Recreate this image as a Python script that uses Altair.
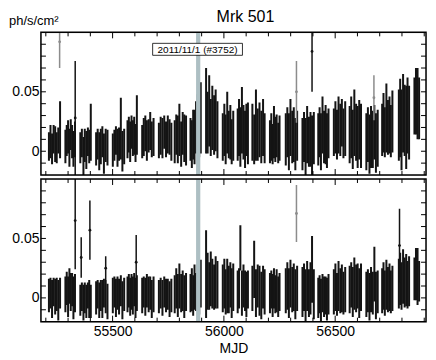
import altair as alt
import pandas as pd

# ---------------- data ----------------
mjd_days = [
    [55214, 55221, 55228, 55235, 55242, 55249, 55256, 55264],
    [55288, 55294, 55300, 55306, 55312, 55318, 55324, 55331],
    [55355, 55362, 55369, 55375, 55382, 55389, 55395, 55402],
    [55426, 55433, 55440, 55447, 55454, 55461, 55469, 55477],
    [55501, 55508, 55515, 55522, 55529, 55537, 55544, 55552],
    [55567, 55573, 55579, 55585, 55591, 55597, 55603, 55609],
    [55633, 55640, 55647, 55654, 55662, 55669, 55676, 55684],
    [55708, 55716, 55724, 55732, 55740, 55748, 55756, 55764],
    [55779, 55786, 55793, 55800, 55808, 55815, 55822, 55830],
    [55850, 55856, 55862, 55868, 55875, 55882, 55889, 55896],
    [55920, 55927, 55934, 55941, 55948, 55956, 55963, 55971],
    [55995, 56002, 56008, 56015, 56022, 56029, 56035, 56042],
    [56062, 56068, 56074, 56081, 56088, 56095, 56101, 56108],
    [56128, 56136, 56144, 56152, 56160, 56168, 56176, 56183],
    [56207, 56213, 56219, 56225, 56231, 56237, 56244, 56250],
    [56278, 56285, 56292, 56299, 56307, 56314, 56321, 56329],
    [56353, 56360, 56367, 56374, 56382, 56389, 56396, 56404],
    [56424, 56430, 56436, 56443, 56450, 56457, 56463, 56470],
    [56494, 56501, 56508, 56515, 56523, 56530, 56537, 56545],
    [56565, 56572, 56579, 56586, 56594, 56601, 56608, 56616],
    [56640, 56647, 56654, 56661, 56669, 56676, 56683, 56691],
    [56711, 56717, 56723, 56730, 56737, 56744, 56750, 56757],
    [56786, 56792, 56798, 56805, 56812, 56819, 56825, 56832],
    [56856, 56863, 56870, 56877],
]

top_flux = [
    [0.004, 0.008, 0.002, 0.010, 0.006, 0.003, 0.009, 0.018],
    [0.004, 0.009, 0.012, 0.003, 0.014, 0.008, 0.002, 0.010],
    [0.003, 0.007, -0.004, 0.005, 0.001, 0.008, 0.004, 0.016],
    [0.002, 0.006, 0.000, 0.004, 0.008, -0.002, 0.005, 0.003],
    [0.001, 0.005, 0.009, 0.003, 0.006, 0.019, 0.000, 0.004],
    [0.010, 0.014, 0.008, 0.016, 0.011, 0.013, 0.007, 0.022],
    [0.008, 0.012, 0.015, 0.009, 0.013, 0.017, 0.010, 0.012],
    [0.009, 0.013, 0.011, 0.016, 0.010, 0.014, 0.012, 0.008],
    [0.008, 0.014, 0.010, 0.018, 0.006, 0.015, 0.011, 0.009],
    [0.010, 0.006, 0.014, 0.012, 0.020, 0.024, 0.018, 0.028],
    [0.034, 0.024, 0.034, 0.020, 0.028, 0.022, 0.026, 0.018],
    [0.012, 0.018, 0.010, 0.024, 0.014, 0.016, 0.008, 0.013],
    [0.014, 0.020, 0.012, 0.026, 0.016, 0.010, 0.018, 0.015],
    [0.016, 0.010, 0.022, 0.014, 0.018, 0.012, 0.020, 0.011],
    [0.008, 0.012, 0.006, 0.016, 0.010, 0.013, 0.007, 0.011],
    [0.010, 0.016, 0.008, 0.020, 0.012, 0.014, 0.006, 0.013],
    [0.006, 0.012, 0.004, 0.014, 0.008, 0.010, 0.005, 0.011],
    [0.010, 0.016, 0.008, 0.022, 0.012, 0.014, 0.009, 0.015],
    [0.016, 0.020, 0.014, 0.022, 0.018, 0.024, 0.015, 0.019],
    [0.014, 0.020, 0.010, 0.024, 0.016, 0.012, 0.018, 0.013],
    [0.008, 0.014, 0.006, 0.012, 0.010, 0.016, 0.007, 0.011],
    [0.018, 0.024, 0.016, 0.028, 0.020, 0.022, 0.017, 0.025],
    [0.022, 0.028, 0.018, 0.032, 0.026, 0.020, 0.030, 0.024],
    [0.038, 0.042, 0.040, 0.036],
]
top_err = [
    [0.012, 0.014, 0.013, 0.012, 0.015, 0.013, 0.011, 0.024],
    [0.014, 0.013, 0.014, 0.016, 0.013, 0.014, 0.015, 0.015],
    [0.013, 0.012, 0.016, 0.014, 0.016, 0.012, 0.014, 0.024],
    [0.014, 0.013, 0.016, 0.015, 0.013, 0.017, 0.014, 0.015],
    [0.014, 0.013, 0.012, 0.016, 0.014, 0.026, 0.017, 0.015],
    [0.016, 0.015, 0.017, 0.014, 0.015, 0.016, 0.016, 0.025],
    [0.014, 0.016, 0.015, 0.017, 0.014, 0.016, 0.015, 0.016],
    [0.015, 0.016, 0.017, 0.014, 0.015, 0.016, 0.015, 0.016],
    [0.018, 0.017, 0.020, 0.022, 0.019, 0.018, 0.020, 0.021],
    [0.018, 0.020, 0.021, 0.023, 0.022, 0.024, 0.023, 0.030],
    [0.036, 0.026, 0.030, 0.024, 0.027, 0.025, 0.026, 0.024],
    [0.020, 0.022, 0.021, 0.026, 0.020, 0.023, 0.019, 0.021],
    [0.022, 0.024, 0.025, 0.028, 0.023, 0.024, 0.022, 0.026],
    [0.024, 0.021, 0.030, 0.022, 0.023, 0.022, 0.024, 0.021],
    [0.018, 0.020, 0.017, 0.022, 0.019, 0.018, 0.017, 0.019],
    [0.022, 0.021, 0.024, 0.024, 0.022, 0.023, 0.022, 0.021],
    [0.022, 0.021, 0.024, 0.024, 0.021, 0.023, 0.025, 0.022],
    [0.022, 0.021, 0.024, 0.024, 0.022, 0.025, 0.023, 0.021],
    [0.020, 0.022, 0.021, 0.024, 0.022, 0.020, 0.021, 0.023],
    [0.024, 0.026, 0.025, 0.028, 0.024, 0.026, 0.025, 0.027],
    [0.024, 0.023, 0.025, 0.026, 0.024, 0.023, 0.025, 0.024],
    [0.022, 0.025, 0.021, 0.029, 0.023, 0.024, 0.022, 0.026],
    [0.030, 0.033, 0.034, 0.033, 0.030, 0.035, 0.032, 0.031],
    [0.024, 0.028, 0.030, 0.026],
]

bot_flux = [
    [0.002, 0.004, -0.001, 0.005, 0.001, 0.003, -0.002, 0.004],
    [0.003, 0.008, 0.001, 0.010, 0.005, 0.007, 0.000, 0.004],
    [-0.002, 0.001, -0.004, 0.000, -0.003, 0.002, -0.001, -0.003],
    [0.000, 0.003, -0.002, 0.002, -0.001, 0.004, 0.001, -0.003],
    [0.002, 0.005, 0.000, 0.004, 0.001, 0.006, -0.002, 0.003],
    [0.003, 0.006, 0.001, 0.005, 0.002, 0.007, 0.000, 0.004],
    [0.002, 0.005, 0.001, 0.006, 0.003, 0.004, -0.001, 0.003],
    [0.001, 0.004, 0.000, 0.005, 0.002, 0.003, -0.001, 0.002],
    [0.003, 0.008, 0.002, 0.010, 0.004, 0.006, 0.001, 0.005],
    [0.004, 0.007, 0.002, 0.009, 0.005, 0.010, 0.003, 0.012],
    [0.020, 0.014, 0.010, 0.016, 0.012, 0.009, 0.013, 0.011],
    [0.008, 0.012, 0.005, 0.010, 0.007, 0.011, 0.004, 0.009],
    [0.005, 0.008, 0.042, 0.004, 0.010, 0.006, 0.003, 0.007],
    [0.008, 0.024, 0.004, 0.010, 0.006, 0.002, 0.009, 0.005],
    [0.004, 0.007, 0.002, 0.008, 0.003, 0.006, 0.001, 0.005],
    [0.006, 0.010, 0.004, 0.012, 0.007, 0.009, 0.003, 0.008],
    [0.005, 0.009, 0.002, 0.010, 0.004, 0.008, 0.024, 0.003],
    [0.000, 0.003, -0.002, 0.004, 0.001, 0.002, -0.001, 0.003],
    [0.005, 0.009, 0.003, 0.010, 0.006, 0.008, 0.004, 0.007],
    [0.007, 0.011, 0.005, 0.012, 0.008, 0.010, 0.004, 0.009],
    [0.003, 0.006, 0.001, 0.007, 0.004, 0.020, 0.002, 0.005],
    [0.006, 0.010, 0.004, 0.011, 0.007, 0.009, 0.005, 0.008],
    [0.012, 0.016, 0.010, 0.018, 0.013, 0.015, 0.011, 0.014],
    [0.016, 0.020, 0.018, 0.014],
]
bot_err = [
    [0.014, 0.013, 0.016, 0.012, 0.015, 0.014, 0.017, 0.013],
    [0.015, 0.014, 0.017, 0.015, 0.016, 0.014, 0.018, 0.016],
    [0.013, 0.012, 0.015, 0.013, 0.014, 0.011, 0.016, 0.014],
    [0.014, 0.012, 0.015, 0.013, 0.016, 0.012, 0.014, 0.015],
    [0.015, 0.013, 0.016, 0.014, 0.015, 0.013, 0.016, 0.014],
    [0.015, 0.014, 0.016, 0.015, 0.016, 0.014, 0.017, 0.015],
    [0.015, 0.013, 0.016, 0.014, 0.015, 0.014, 0.016, 0.015],
    [0.014, 0.013, 0.015, 0.013, 0.014, 0.013, 0.015, 0.014],
    [0.016, 0.017, 0.018, 0.019, 0.016, 0.017, 0.018, 0.016],
    [0.016, 0.018, 0.017, 0.019, 0.016, 0.018, 0.017, 0.020],
    [0.037, 0.024, 0.020, 0.023, 0.021, 0.019, 0.022, 0.020],
    [0.020, 0.021, 0.019, 0.023, 0.020, 0.019, 0.021, 0.020],
    [0.018, 0.017, 0.019, 0.019, 0.018, 0.017, 0.019, 0.016],
    [0.019, 0.024, 0.020, 0.018, 0.021, 0.020, 0.018, 0.019],
    [0.017, 0.016, 0.018, 0.017, 0.016, 0.018, 0.017, 0.016],
    [0.019, 0.020, 0.021, 0.020, 0.019, 0.020, 0.021, 0.019],
    [0.021, 0.020, 0.022, 0.021, 0.020, 0.022, 0.028, 0.021],
    [0.017, 0.016, 0.018, 0.016, 0.017, 0.016, 0.018, 0.017],
    [0.019, 0.020, 0.018, 0.021, 0.019, 0.020, 0.018, 0.019],
    [0.020, 0.019, 0.021, 0.022, 0.020, 0.019, 0.021, 0.020],
    [0.019, 0.018, 0.020, 0.019, 0.018, 0.023, 0.020, 0.018],
    [0.019, 0.020, 0.019, 0.021, 0.019, 0.020, 0.018, 0.019],
    [0.021, 0.022, 0.020, 0.023, 0.021, 0.022, 0.020, 0.021],
    [0.018, 0.022, 0.024, 0.017],
]

# isolated large-error points
top_spike_mjd = [55332, 56396]
top_spike_flux = [0.028, 0.084]
top_spike_err = [0.048, 0.034]
top_gray_mjd = [55262, 56326, 56674]
top_gray_flux = [0.092, 0.050, 0.045]
top_gray_err = [0.022, 0.026, 0.019]

bot_spike_mjd = [55332, 55359, 55398, 55469, 55606, 56789]
bot_spike_flux = [0.065, 0.034, 0.057, 0.025, 0.030, 0.044]
bot_spike_err = [0.041, 0.017, 0.025, 0.010, 0.023, 0.031]
bot_gray_mjd = [56326]
bot_gray_flux = [0.071]
bot_gray_err = [0.024]

band_start = [55875]
band_end = [55894]
band_label = ["2011/11/1 (#3752)"]

y_tick_vals = [-0.01, 0.0, 0.01, 0.02, 0.03, 0.04, 0.05, 0.06, 0.07, 0.08, 0.09]
y_label_vals = [0.0, 0.05]
x_minor_vals = [55200, 55300, 55400, 55600, 55700, 55800, 55900, 56100, 56200,
                56300, 56400, 56600, 56700, 56800, 56900]
x_major_vals = [55500, 56000, 56500]

title_text = ["Mrk 501"]
unit_text = ["ph/s/cm²"]
x_title = "MJD"

# ---------------- build tables ----------------
def flat(days, flux, err):
    rows = []
    for d, f, e in zip(days, flux, err):
        assert len(d) == len(f) == len(e)
        for a, b, c in zip(d, f, e):
            rows.append({"mjd": a, "flux": b, "lo": b - c, "hi": b + c})
    return pd.DataFrame(rows)


def simple(m, f, e):
    return pd.DataFrame({"mjd": m, "flux": f,
                         "lo": [a - b for a, b in zip(f, e)],
                         "hi": [a + b for a, b in zip(f, e)]})


W, H = 386, 143
FONT = "Liberation Sans"
xs = alt.Scale(domain=[55178, 56908], nice=False, zero=False)
ys = alt.Scale(domain=[-0.02, 0.1], nice=False, zero=False)


def panel(main, spikes, grays, bottom, top_panel):
    if bottom:
        xaxis = alt.Axis(values=x_major_vals, format="d", labelFontSize=14,
                         labelPadding=3, ticks=False, tickSize=0, domain=False,
                         grid=False, title=x_title, titleFontSize=14,
                         titleFontWeight="normal", titlePadding=3,
                         labelColor="black", titleColor="black",
                         labelFont=FONT, titleFont=FONT)
    else:
        xaxis = None
    yaxis = alt.Axis(values=y_label_vals, format="~g", labelFontSize=14,
                     labelPadding=2, ticks=False, tickSize=0, domain=False,
                     grid=False, title=None, labelColor="black", labelFont=FONT)

    def X(field):
        return alt.X(field, scale=xs, axis=xaxis)

    def Y(field):
        return alt.Y(field, scale=ys, axis=yaxis)

    layers = []
    layers.append(alt.Chart(main).mark_rule(color="#141414", strokeWidth=2, clip=True)
                  .encode(x=X("mjd:Q"), y=Y("lo:Q"), y2="hi:Q"))
    layers.append(alt.Chart(grays).mark_rule(color="#8c8c8c", strokeWidth=1.5, clip=True)
                  .encode(x=X("mjd:Q"), y=Y("lo:Q"), y2="hi:Q"))
    layers.append(alt.Chart(grays).mark_circle(color="#8c8c8c", size=8, opacity=1, clip=True)
                  .encode(x=X("mjd:Q"), y=Y("flux:Q")))
    layers.append(alt.Chart(spikes).mark_rule(color="#141414", strokeWidth=1.5, clip=True)
                  .encode(x=X("mjd:Q"), y=Y("lo:Q"), y2="hi:Q"))
    layers.append(alt.Chart(spikes).mark_circle(color="#141414", size=8, opacity=1, clip=True)
                  .encode(x=X("mjd:Q"), y=Y("flux:Q")))
    # highlighted day band (drawn over the data)
    band = pd.DataFrame({"a": band_start, "b": band_end})
    layers.append(alt.Chart(band).mark_rect(color="#adbfc3", opacity=1)
                  .encode(x=X("a:Q"), x2="b:Q"))
    # inward ticks
    yt = pd.DataFrame({"v": y_tick_vals})
    layers.append(alt.Chart(yt).mark_rule(color="black", strokeWidth=1)
                  .encode(y=Y("v:Q"), x=alt.value(0), x2=alt.value(5)))
    layers.append(alt.Chart(yt).mark_rule(color="black", strokeWidth=1)
                  .encode(y=Y("v:Q"), x=alt.value(W - 5), x2=alt.value(W)))
    xmin = pd.DataFrame({"v": x_minor_vals})
    xmaj = pd.DataFrame({"v": x_major_vals})
    for df, ln in ((xmin, 4), (xmaj, 6)):
        layers.append(alt.Chart(df).mark_rule(color="black", strokeWidth=1)
                      .encode(x=X("v:Q"), y=alt.value(0), y2=alt.value(ln)))
        layers.append(alt.Chart(df).mark_rule(color="black", strokeWidth=1)
                      .encode(x=X("v:Q"), y=alt.value(H - ln), y2=alt.value(H)))
    # panel frame
    layers.append(alt.Chart(pd.DataFrame({"f": [1]}))
                  .mark_rect(fillOpacity=0, stroke="black", strokeWidth=1.5)
                  .encode(x=alt.value(0), x2=alt.value(W),
                          y=alt.value(0), y2=alt.value(H)))
    if top_panel:
        layers.append(alt.Chart(pd.DataFrame({"t": band_label}))
                      .mark_rect(fill="white", stroke="black", strokeWidth=0.8)
                      .encode(x=alt.value(112), x2=alt.value(202),
                              y=alt.value(11), y2=alt.value(23)))
        layers.append(alt.Chart(pd.DataFrame({"t": band_label}))
                      .mark_text(fontSize=10, font=FONT, color="black",
                                 align="center", baseline="middle")
                      .encode(text="t:N", x=alt.value(157), y=alt.value(17.5)))
        layers.append(alt.Chart(pd.DataFrame({"t": unit_text}))
                      .mark_text(fontSize=13, font=FONT, color="black",
                                 align="left", baseline="top")
                      .encode(text="t:N", x=alt.value(-32), y=alt.value(-17)))
        layers.append(alt.Chart(pd.DataFrame({"t": title_text}))
                      .mark_text(fontSize=16, font=FONT, color="black",
                                 align="center", baseline="top")
                      .encode(text="t:N", x=alt.value(205), y=alt.value(-23)))
    return alt.layer(*layers).properties(width=W, height=H)


top = panel(flat(mjd_days, top_flux, top_err),
            simple(top_spike_mjd, top_spike_flux, top_spike_err),
            simple(top_gray_mjd, top_gray_flux, top_gray_err), False, True)
bot = panel(flat(mjd_days, bot_flux, bot_err),
            simple(bot_spike_mjd, bot_spike_flux, bot_spike_err),
            simple(bot_gray_mjd, bot_gray_flux, bot_gray_err), True, False)

chart = (alt.vconcat(top, bot, spacing=0)
         .properties(padding={"left": 0, "top": 0, "right": 0, "bottom": 0})
         .configure_view(stroke="#000000", strokeWidth=1.5)
         .configure(font=FONT, background="white"))

chart.save("out.html", embed_options={"renderer": "svg", "actions": False})
